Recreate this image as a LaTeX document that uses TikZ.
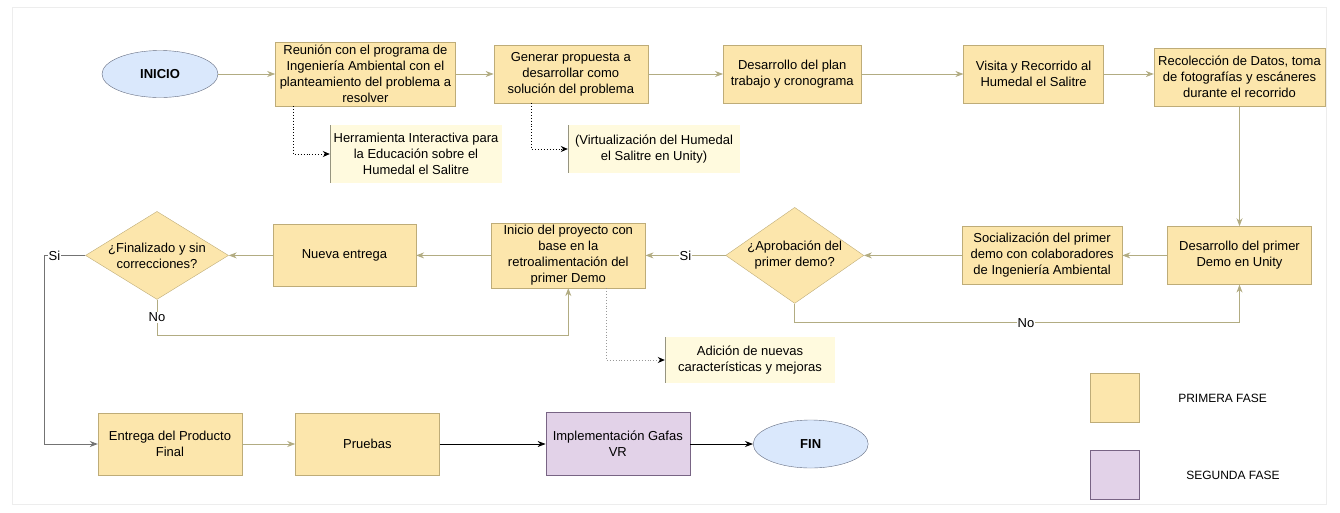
\documentclass[tikz,border=0pt]{standalone}
\usepackage{fontspec}
\setmainfont{Liberation Sans}
\usepackage{tikz}
\usetikzlibrary{positioning, arrows.meta, shapes}
\definecolor{fasefill}{RGB}{252,230,172}
\definecolor{faseline}{RGB}{190,172,120}
\definecolor{fasedos}{RGB}{226,210,232}
\definecolor{fasedosline}{RGB}{120,100,132}
\definecolor{notafill}{RGB}{255,250,222}
\definecolor{notaline}{RGB}{150,148,128}
\definecolor{finfill}{RGB}{218,232,252}
\definecolor{finline}{RGB}{100,108,128}
\definecolor{flechaclr}{RGB}{178,172,130}
\tikzset{
      fase box/.style={
		rectangle,
		draw=faseline,
		fill=fasefill,
		align=center,
		inner sep=2pt,
		minimum width={#1},
		minimum height={58pt},
		font=\fontsize{13}{16}\selectfont,
	  },
      fase2 box/.style={
		fase box=#1,
		draw=fasedosline,
		fill=fasedos,
	  },
      terminal/.style={
		ellipse,
		draw=finline,
		fill=finfill,
		minimum width={116pt},
		minimum height={47pt},
		inner sep=0pt,
		font=\fontsize{13}{16}\selectfont\bfseries,
	  },
      decision/.style={
		diamond,
		draw=faseline,
		fill=fasefill,
		aspect=1.5,
		inner sep=-2pt,
		align=center,
		font=\fontsize{13}{16}\selectfont,
	  },
      nota/.style={
		rectangle,
		fill=notafill,
		align=center,
		minimum width={#1},
		font=\fontsize{13}{16}\selectfont,
		path picture={\draw[notaline, line width=2pt] (path picture bounding box.north west) -- (path picture bounding box.south west);},
	  },
      flecha/.style={
		draw=flechaclr,
		line width=0.8pt,
		-{Stealth[length=8pt, width=6pt]},
	  },
      flecha negra/.style={
		flecha,
		draw=black,
	  },
      nota flecha/.style={
		draw=black,
		dotted,
		line width=0.9pt,
		-{Stealth[length=7pt, width=6pt, black]},
	  },
      etiqueta/.style={
		fill=white,
		inner sep=1pt,
		font=\fontsize{13}{16}\selectfont,
	  },
      leyenda/.style={
		rectangle,
		minimum size={49pt},
		inner sep=0pt,
	  },
      ley texto/.style={
		font=\fontsize{12}{14}\selectfont,
	  }
  	}
\begin{document}
\begin{tikzpicture}[x=1pt, y=1pt]
    \useasboundingbox (0,0) rectangle (1340,-512);
    \draw[black!7] (12,-7) rectangle (1326,-504);
    % primera fila
    \node [terminal] (inicio) at (160,-74) {INICIO};
    \node [fase box=180pt, minimum height=64pt, right=57pt of inicio] (reunion) {Reunión con el programa de\\Ingeniería Ambiental con el\\planteamiento del problema a\\resolver};
    \node [fase box=154pt, right=38pt of reunion] (propuesta) {Generar propuesta a\\desarrollar como\\solución del problema};
    \node [fase box=138pt, right=75pt of propuesta] (plan) {Desarrollo del plan\\trabajo y cronograma};
    \node [fase box=140pt, right=102pt of plan] (visita) {Visita y Recorrido al\\Humedal el Salitre};
    \node [fase box=171pt, right=50pt of visita, yshift=-3pt] (recoleccion) {Recolección de Datos, toma\\de fotografías y escáneres\\durante el recorrido};
    \node [nota=172pt, minimum height=58pt] (herramienta) at (416,-154) {Herramienta Interactiva para\\la Educación sobre el\\Humedal el Salitre};
    \node [nota=172pt, minimum height=48pt] (virtual) at (654,-149) {(Virtualización del Humedal\\el Salitre en Unity)};
    % segunda fila
    \node [fase box=144pt, below=120pt of recoleccion] (demo1) {Desarrollo del primer\\Demo en Unity};
    \node [fase box=160pt, left=45pt of demo1] (socializa) {Socialización del primer\\demo con colaboradores\\de Ingeniería Ambiental};
    \node [decision, minimum width=138pt, minimum height=96pt, left=98pt of socializa] (aprob) {¿Aprobación del\\primer demo?};
    \node [fase box=154pt, minimum height=65pt, left=80pt of aprob] (inicioproy) {Inicio del proyecto con\\base en la\\retroalimentación del\\primer Demo};
    \node [fase box=143pt, minimum height=62pt, left=75pt of inicioproy] (nueva) {Nueva entrega};
    \node [decision, minimum width=143pt, minimum height=88pt, left=44pt of nueva] (final) {¿Finalizado y sin\\correcciones?};
    \node [nota=170pt, minimum height=46pt] (adicion) at (750,-360) {Adición de nuevas\\características y mejoras};
    % tercera fila
    \node [fase box=144pt, minimum height=62pt] (entrega) at (170,-444) {Entrega del Producto\\Final};
    \node [fase box=144pt, minimum height=62pt, right=53pt of entrega] (pruebas) {Pruebas};
    \node [fase2 box=144pt, minimum height=63pt, right=106pt of pruebas] (gafas) {Implementación Gafas\\VR};
    \node [terminal, minimum width=115pt, minimum height=48pt, right=63pt of gafas] (fin) {FIN};
    % leyenda
    \node [leyenda, draw=faseline, fill=fasefill] (ley1) at (1115,-398) {};
    \node [leyenda, draw=fasedosline, fill=fasedos] (ley2) at (1115,-475) {};
    \node [ley texto, right=35pt of ley1] {PRIMERA FASE};
    \node [ley texto, right=43pt of ley2] {SEGUNDA FASE};
    % conectores
    \draw [flecha] (inicio) -- (reunion);
    \draw [flecha] (reunion) -- (propuesta);
    \draw [flecha] (propuesta) -- (plan);
    \draw [flecha] (plan) -- (visita);
    \draw [flecha] (visita.east) -- (visita.east -| recoleccion.west);
    \draw [flecha] (recoleccion) -- (demo1);
    \draw [flecha] (demo1) -- (socializa);
    \draw [flecha] (socializa) -- (aprob);
    \draw [flecha] (aprob) -- node[etiqueta] {Si} (inicioproy);
    \draw [flecha] (inicioproy) -- (nueva);
    \draw [flecha] (nueva) -- (final);
    \draw [flecha] (aprob.south) |- node[etiqueta, pos=0.76] {No} ([yshift=-38pt]demo1.south) -- (demo1.south);
    \draw [flecha] (final.south) |- node[etiqueta, pos=0.25] {No} ([yshift=-47pt]inicioproy.south) -- (inicioproy.south);
    \draw [flecha, draw=black!55] (final.west) -| node[etiqueta, pos=0.38] {Si} ([xshift=-53pt]entrega.west) -- (entrega.west);
    \draw [flecha] (entrega) -- (pruebas);
    \draw [flecha negra] (pruebas) -- (gafas);
    \draw [flecha negra] (gafas) -- (fin);
    \draw [nota flecha] ([xshift=-72pt]reunion.south) |- (herramienta.west);
    \draw [nota flecha] ([xshift=-39pt]propuesta.south) |- (virtual.west);
    \draw [nota flecha, draw=black!40] ([xshift=38pt]inicioproy.south) |- (adicion.west);
  \end{tikzpicture}
\end{document}
